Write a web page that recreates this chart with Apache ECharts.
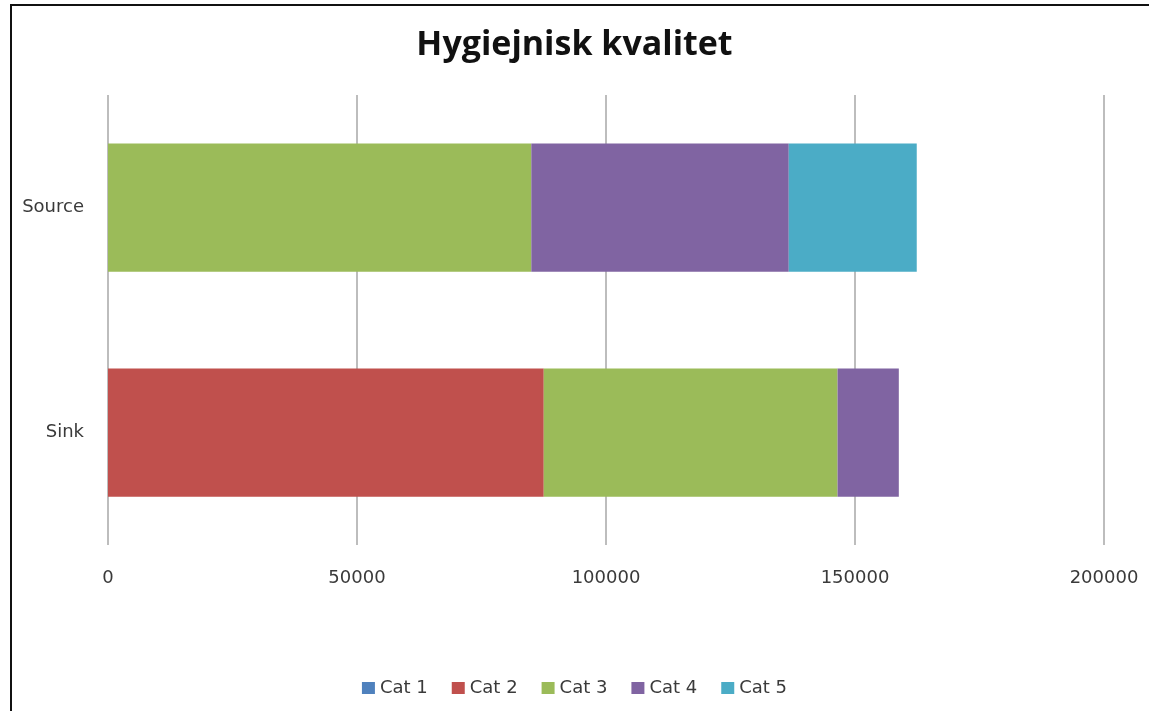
<!DOCTYPE html>
<html>
<head>
<meta charset="utf-8">
<script src="https://cdn.jsdelivr.net/npm/echarts@6/dist/echarts.min.js"></script>
<style>
html,body{margin:0;padding:0;background:#fff;}
#frame{position:absolute;left:10px;top:4px;width:1160px;height:740px;border:2px solid #111;box-sizing:border-box;}
#chart{position:absolute;left:0;top:0;width:1149px;height:711px;}
</style>
</head>
<body>
<div id="frame"></div>
<div id="chart"></div>
<script>
var categories = ['Sink', 'Source'];
var seriesNames = ['Cat 1', 'Cat 2', 'Cat 3', 'Cat 4', 'Cat 5'];
var cat1 = [0, 0];
var cat2 = [87500, 0];
var cat3 = [59000, 85000];
var cat4 = [12300, 51700];
var cat5 = [0, 25700];
var xTicks = [0, 50000, 100000, 150000, 200000];
var colors = ['#4F81BD', '#C0504D', '#9BBB59', '#8064A2', '#4BACC6'];

var values = [cat1, cat2, cat3, cat4, cat5];
var chart = echarts.init(document.getElementById('chart'));
var series = seriesNames.map(function (n, i) {
  return {
    name: n, type: 'bar', stack: 'total', data: values[i],
    barCategoryGap: '43%',
    itemStyle: { color: colors[i] }
  };
});
var txt = { fontFamily: 'DejaVu Sans', fontSize: 18, color: '#3a3a3a' };
chart.setOption({
  animation: false,
  title: {
    text: 'Hygiejnisk kvalitet', left: 'center', top: 23,
    textStyle: { fontFamily: 'Open Sans', fontWeight: 'bold', fontSize: 34, color: '#111' }
  },
  legend: {
    data: seriesNames, bottom: 9, left: 'center',
    itemWidth: 13, itemHeight: 12, itemGap: 24, icon: 'rect',
    textStyle: txt
  },
  grid: { left: 108, right: 45, top: 95, bottom: 166, containLabel: false },
  xAxis: {
    type: 'value', min: xTicks[0], max: xTicks[xTicks.length - 1], interval: 50000,
    axisLine: { show: false }, axisTick: { show: false },
    splitLine: { show: true, lineStyle: { color: '#bdbdbd', width: 2 } },
    axisLabel: Object.assign({ margin: 24, formatter: function (v) { return String(v); } }, txt)
  },
  yAxis: {
    type: 'category', data: categories,
    axisLine: { show: false }, axisTick: { show: false },
    axisLabel: Object.assign({ margin: 24 }, txt)
  },
  series: series
});
</script>
</body>
</html>
